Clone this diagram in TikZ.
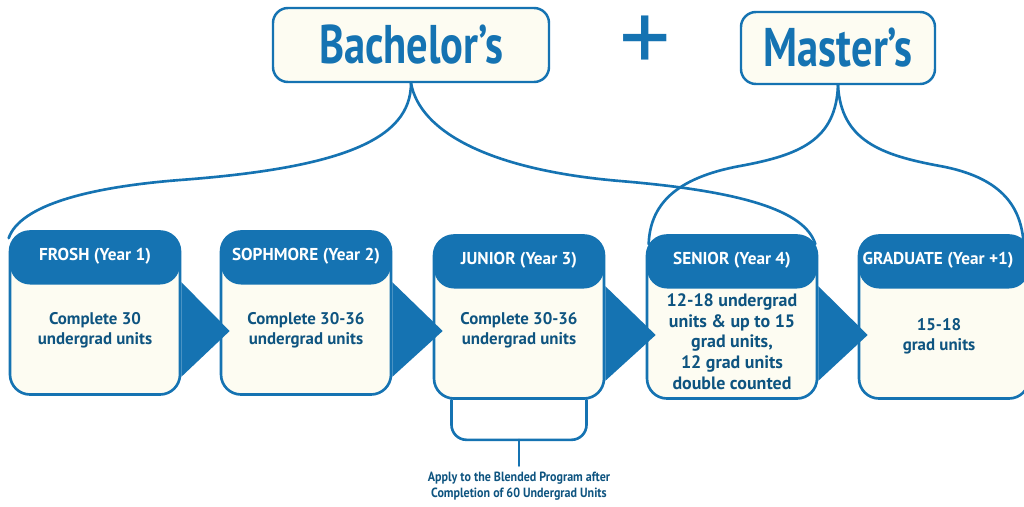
\documentclass[tikz,border=0pt]{standalone}
\usepackage{fontspec}
\setmainfont{PT Sans}
\newfontfamily\narrowfont[FakeStretch=0.78]{PT Sans}
\newfontfamily\notefont[FakeStretch=0.9]{PT Sans}
\definecolor{ublue}{RGB}{21,115,178}
\definecolor{utext}{RGB}{14,84,128}
\definecolor{cream}{RGB}{253,252,242}
\begin{document}
\begin{tikzpicture}[x=0.2mm, y=-0.2mm, line join=round, line cap=round,
	link/.style={draw=ublue, line width=1.5pt},
	yearbox/.style={draw=ublue, line width=1.5pt, fill=cream, rounded corners=4mm, minimum width=34mm, minimum height=32.6mm, inner sep=0pt,
		path picture={\fill[ublue] (path picture bounding box.north west) rectangle ([yshift=-10.6mm]path picture bounding box.north east);}},
	degreebox/.style={draw=ublue, line width=1.4pt, fill=cream, rounded corners=3mm, inner sep=0pt, text=ublue, font=\narrowfont\bfseries\fontsize{31}{31}\selectfont},
	headtext/.style={text=white, font=\bfseries\fontsize{9.8}{11}\selectfont},
	bodytext/.style={text=utext, align=center, font=\bfseries\fontsize{9.6}{11.4}\selectfont}]
	\clip (0,0) rectangle (1024,507);
	\fill[white] (0,0) rectangle (1024,507);
	
	% degrees
	\node[degreebox, minimum width=55.2mm, minimum height=14.8mm] (bach) at (411,45) {Bachelor’s};
	\node[degreebox, minimum width=38.8mm, minimum height=14.4mm] (mast) at (838,48) {Master’s};
	\node[text=ublue, inner sep=0pt, font=\fontsize{58}{58}\selectfont] (plus) at (645,44) {+};
	
	% years
	\node[yearbox] (frosh) at (95,313) {};
	\node[yearbox] (sophmore) at (306,313) {};
	\node[yearbox] (junior) at (519,317) {};
	\node[yearbox] (senior) at (732,317) {};
	\node[yearbox] (grad) at (944,317) {};
	
	\node[headtext] at ([yshift=-5.3mm]frosh.north) {FROSH (Year 1)};
	\node[headtext] at ([yshift=-5.3mm]sophmore.north) {SOPHMORE (Year 2)};
	\node[headtext] at ([yshift=-5.3mm]junior.north) {JUNIOR (Year 3)};
	\node[headtext] at ([yshift=-5.3mm]senior.north) {SENIOR (Year 4)};
	\node[headtext] at ([xshift=-1.2mm,yshift=-5.3mm]grad.north) {GRADUATE (Year +1)};
	
	\node[bodytext] at ([yshift=-3.4mm]frosh.center) {Complete 30\\undergrad units};
	\node[bodytext] at ([yshift=-3.4mm]sophmore.center) {Complete 30-36\\undergrad units};
	\node[bodytext] at ([yshift=-2.6mm]junior.center) {Complete 30-36\\undergrad units};
	\node[bodytext, font=\bfseries\fontsize{10.2}{11.8}\selectfont] at ([yshift=-4.9mm]senior.center) {12-18 undergrad\\units \& up to 15\\grad units,\\12 grad units\\double counted};
	\node[bodytext] at ([xshift=-1mm,yshift=-3.8mm]grad.center) {15-18\\grad units};
	
	% arrows between years
	\foreach \a/\b in {frosh/sophmore, junior/senior, senior/grad}
		\fill[ublue] ([yshift=-10.4mm]\a.north east) -- ([xshift=2mm,yshift=-3.6mm]\b.west) -- ([yshift=3.8mm]\a.south east) -- cycle;
	\fill[ublue] ([yshift=-10.4mm]sophmore.north east) -- ([xshift=2mm,yshift=-2.8mm]junior.west) -- ([yshift=3.8mm]sophmore.south east) -- cycle;
	
	% branches
	\draw[link] (bach.south) .. controls (411,140) and (340,168) .. (180,180) .. controls (90,187) and (20,205) .. ([yshift=-1.6mm]frosh.north west);
	\draw[link] (bach.south) .. controls (420,132) and (490,170) .. (620,181) .. controls (740,191) and (805,210) .. ([xshift=-0.6mm,yshift=-2mm]senior.north east);
	\draw[link] (mast.south) .. controls (836,140) and (800,155) .. (740,166) .. controls (675,178) and (650,205) .. ([xshift=0.6mm,yshift=-2mm]senior.north west);
	\draw[link] (mast.south) .. controls (841,140) and (880,155) .. (940,166) .. controls (1000,177) and (1020,205) .. ([xshift=-1.4mm,yshift=-1.2mm]grad.north east);
	
	% application note
	\draw[link, rounded corners=3mm] ([xshift=-13.5mm]junior.south) -- ++(0,40) -- ++(135,0) -- ++(0,-40);
	\coordinate (brk) at ([yshift=-8mm]junior.south);
	\node[text=utext, align=center, font=\notefont\bfseries\fontsize{7.6}{9}\selectfont] (note) at (519,486) {Apply to the Blended Program after\\Completion of 60 Undergrad Units};
	\draw[link] (brk) -- (note.north);
\end{tikzpicture}
\end{document}
